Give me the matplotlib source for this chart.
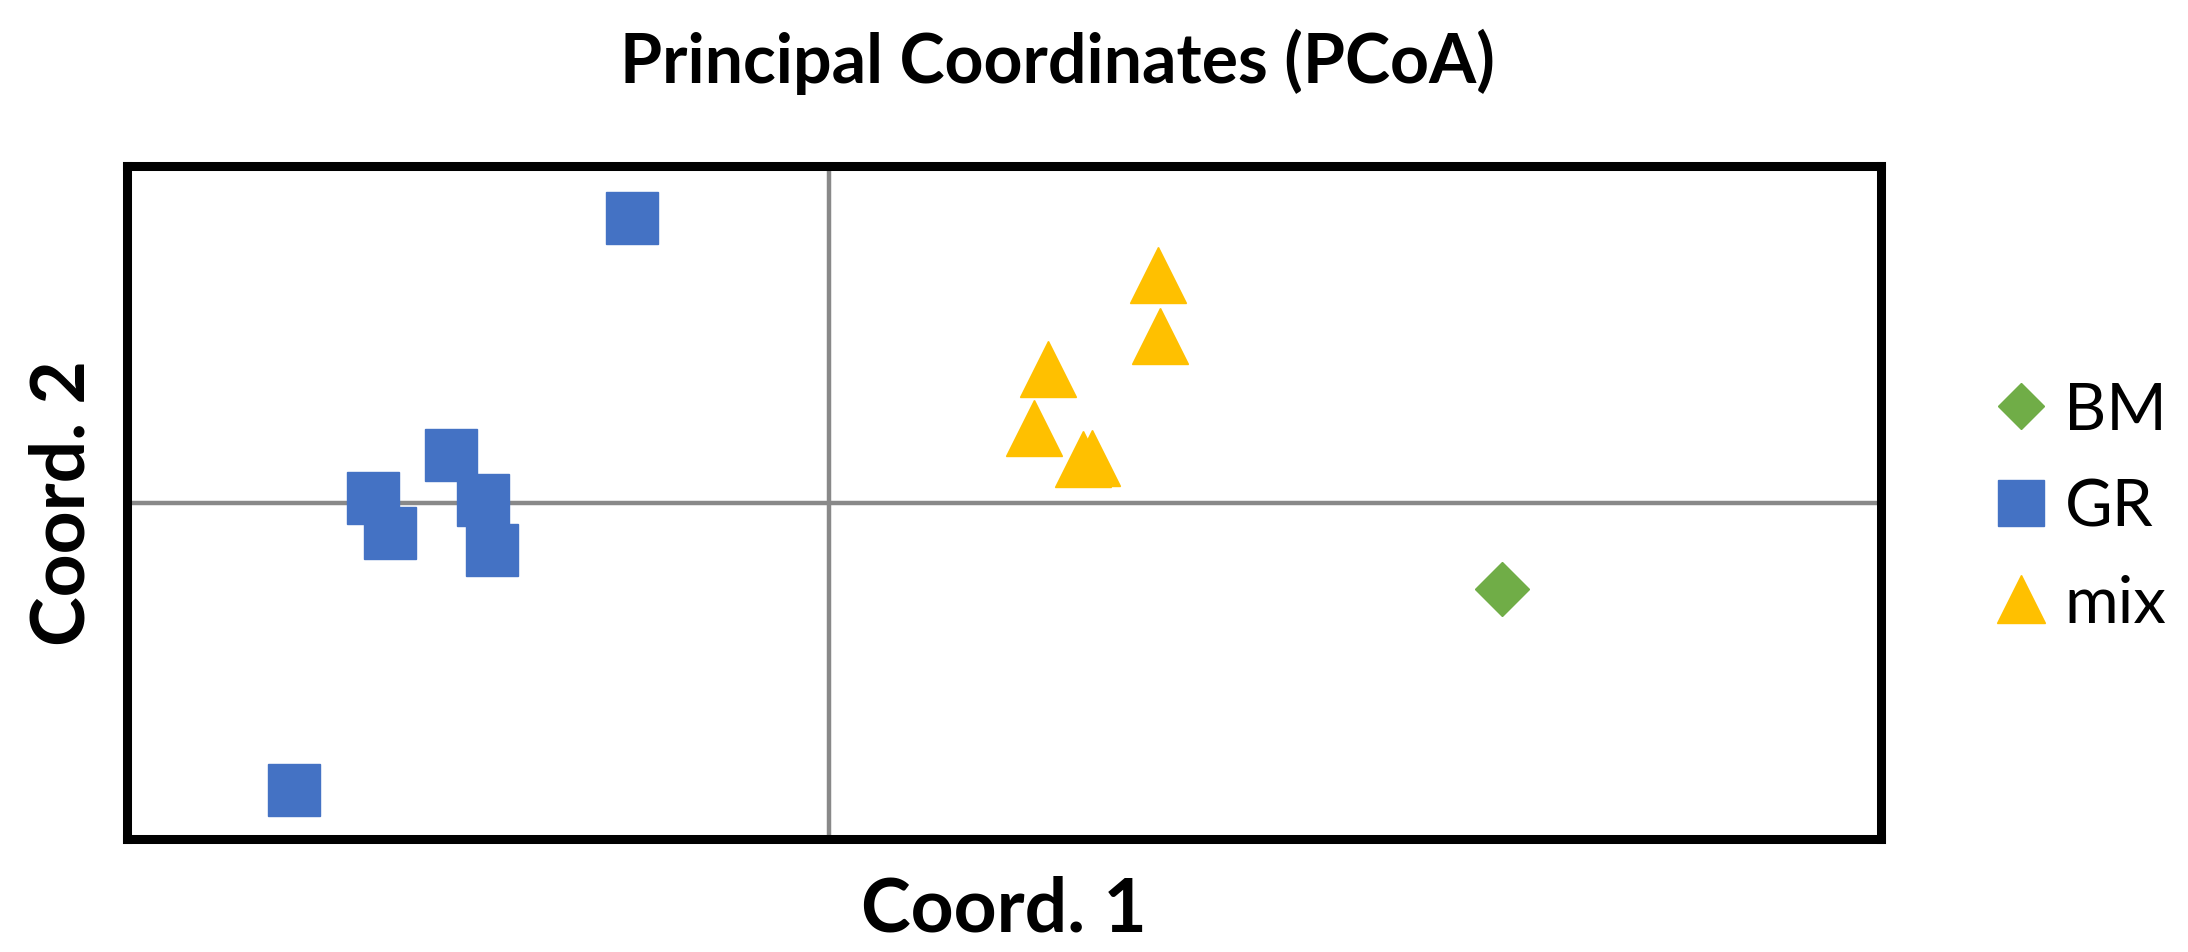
import matplotlib.pyplot as plt

plt.rcParams['font.family'] = ['Lato', 'DejaVu Sans']

# PCoA scores
gr_x = [-0.056, -0.1525, -0.130, -0.125, -0.1075, -0.0985, -0.096]
gr_y = [0.1266, -0.128, 0.0018, -0.0138, 0.021, 0.0009, -0.0213]
mix_x = [0.094, 0.0945, 0.0625, 0.0585, 0.0725, 0.075]
mix_y = [0.1014, 0.0741, 0.0597, 0.0333, 0.0195, 0.020]
bm_x = [0.192]
bm_y = [-0.0384]

W, H = 2188, 953
fig = plt.figure(figsize=(W / 100, H / 100), dpi=100)
ax = fig.add_axes([127 / W, 1 - 840 / H, (1881 - 127) / W, (840 - 167) / H])

ax.set_xlim(-0.2, 0.3)
ax.set_ylim(-0.15, 0.15)

# axes crossing at zero
ax.axvline(0, color='#898989', linewidth=3.2, zorder=1)
ax.axhline(0, color='#898989', linewidth=3.2, zorder=1)

bm, = ax.plot(bm_x, bm_y, 'D', color='#70AD47', markersize=27.5,
              markeredgewidth=1, linestyle='none', zorder=3)
gr, = ax.plot(gr_x, gr_y, 's', color='#4472C4', markersize=38,
              markeredgewidth=1, linestyle='none', zorder=3)
mix, = ax.plot(mix_x, mix_y, '^', color='#FFC000', markersize=40,
               markeredgewidth=1, linestyle='none', zorder=3)

ax.set_xticks([])
ax.set_yticks([])
for s in ax.spines.values():
    s.set_linewidth(6.5)
    s.set_color('black')

ax.set_xlabel('Coord. 1', fontsize=54, fontweight='bold')
ax.xaxis.label.set_va('center')
ax.xaxis.set_label_coords(0.5, (840 - 910) / (840 - 167))
ax.set_ylabel('Coord. 2', fontsize=54, fontweight='bold')
ax.yaxis.label.set_va('center')
ax.yaxis.set_label_coords((63 - 127) / (1881 - 127), 0.5)

fig.text(1057 / W, 1 - 62 / H, 'Principal Coordinates (PCoA)', fontsize=49,
         fontweight='bold', ha='center', va='center')

# legend markers are a bit smaller than in the plot
handles = [
    plt.Line2D([], [], marker='D', color='#70AD47', markersize=23.5, linestyle='none'),
    plt.Line2D([], [], marker='s', color='#4472C4', markersize=33, linestyle='none'),
    plt.Line2D([], [], marker='^', color='#FFC000', markersize=34, linestyle='none'),
]
fig.legend(handles, ['BM', 'GR', 'mix'], loc='center left',
           bbox_to_anchor=(1988 / W, 1 - 508 / H), bbox_transform=fig.transFigure,
           frameon=False, fontsize=47, handlelength=1.0, handletextpad=0.17,
           labelspacing=0.57, borderpad=0, borderaxespad=0)

fig.savefig('out.png', dpi=100)
